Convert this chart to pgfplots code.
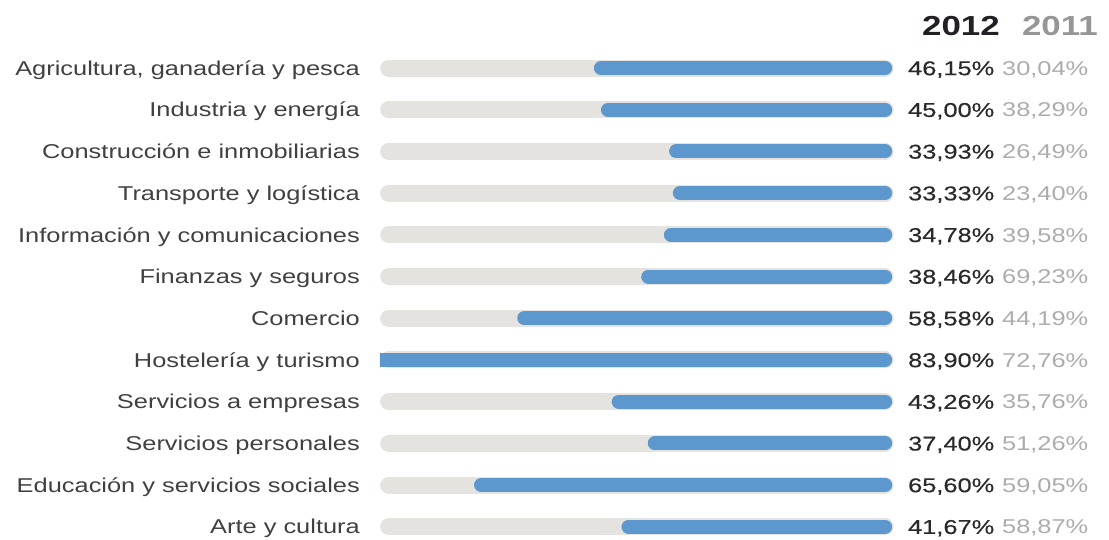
\documentclass[border=0pt]{standalone}
\usepackage{fontspec}
\setmainfont[FakeStretch=1.27]{Liberation Sans}
\newfontfamily\mediumfont[FakeStretch=1.27, FakeBold=0.35]{Liberation Sans}
\usepackage{pgfplots}
\usepackage{pgfplotstable}
\pgfplotsset{compat=1.18}

\definecolor{barblue}{RGB}{92,152,206}
\definecolor{track}{RGB}{229,227,224}
\definecolor{labelgray}{RGB}{64,64,64}
\definecolor{cur}{RGB}{42,42,42}
\definecolor{prev}{RGB}{172,172,172}
\definecolor{headcur}{RGB}{35,31,36}
\definecolor{headprev}{RGB}{150,150,150}

% Share of each sector, 2012 and 2011 (percent); track = length of the grey rail
\pgfplotstableread[col sep=semicolon]{
idx;sector;v2012;v2011;track
0;Agricultura, ganadería y pesca;46.15;30.04;80.6
1;Industria y energía;45.00;38.29;80.6
2;Construcción e inmobiliarias;33.93;26.49;80.6
3;Transporte y logística;33.33;23.40;80.6
4;Información y comunicaciones;34.78;39.58;80.6
5;Finanzas y seguros;38.46;69.23;80.6
6;Comercio;58.58;44.19;80.6
7;Hostelería y turismo;83.90;72.76;80.6
8;Servicios a empresas;43.26;35.76;80.6
9;Servicios personales;37.40;51.26;80.6
10;Educación y servicios sociales;65.60;59.05;80.6
11;Arte y cultura;41.67;58.87;80.6
}\sectores

\pgfplotsset{
  panel/.style={
    at={(637.2pt,241.64pt)}, anchor=center,
    scale only axis, width=514.4pt, height=483.72pt,
    xmin=-1.5, xmax=82, ymin=-0.3, ymax=11.3,
    x dir=reverse, y dir=reverse,
    hide axis,
  },
  pct/.style={
    point meta=explicit,
    nodes near coords={\pgfmathprintnumber[fixed, fixed zerofill, precision=2, use comma, assume math mode=true]{\pgfplotspointmeta}\%},
  },
}

\begin{document}
\begin{tikzpicture}
\useasboundingbox (0pt,0pt) rectangle (1109pt,539pt);

% rails and bars: round-capped strokes from 0 to the value, clipped to the rail extent
\begin{axis}[panel]
  \addplot[xcomb, mark=none, draw=track, line width=17pt, line cap=round]
    table[x=track, y=idx] {\sectores};
  \addplot[xcomb, mark=none, draw=barblue, line width=14pt, line cap=round]
    table[x=v2012, y=idx] {\sectores};
\end{axis}

% labels
\begin{axis}[panel, clip=false]
  \addplot[draw=none, mark=none, point meta=explicit symbolic, nodes near coords,
    every node near coord/.append style={anchor=base east, xshift=-20pt, yshift=-7.2pt,
      inner sep=0pt, font=\fontsize{20}{24}\selectfont, text=labelgray}]
    table[x expr=82, y=idx, meta=sector] {\sectores};
  \addplot[draw=none, mark=none, pct,
    every node near coord/.append style={anchor=base west, xshift=22.8pt, yshift=-7.2pt,
      inner sep=0pt, font=\fontsize{20}{24}\mediumfont, text=cur}]
    table[x expr=0, y=idx, meta=v2012] {\sectores};
  \addplot[draw=none, mark=none, pct,
    every node near coord/.append style={anchor=base west, xshift=116.8pt, yshift=-7.2pt,
      inner sep=0pt, font=\fontsize{20}{24}\selectfont, text=prev}]
    table[x expr=0, y=idx, meta=v2011] {\sectores};
\end{axis}

\node[anchor=base east, inner sep=0pt, text=headcur,
      font=\fontsize{27.5}{30}\bfseries\selectfont] at (1000pt,503pt) {2012};
\node[anchor=base east, inner sep=0pt, text=headprev,
      font=\fontsize{27.5}{30}\bfseries\selectfont] at (1098pt,503pt) {2011};
\end{tikzpicture}
\end{document}
